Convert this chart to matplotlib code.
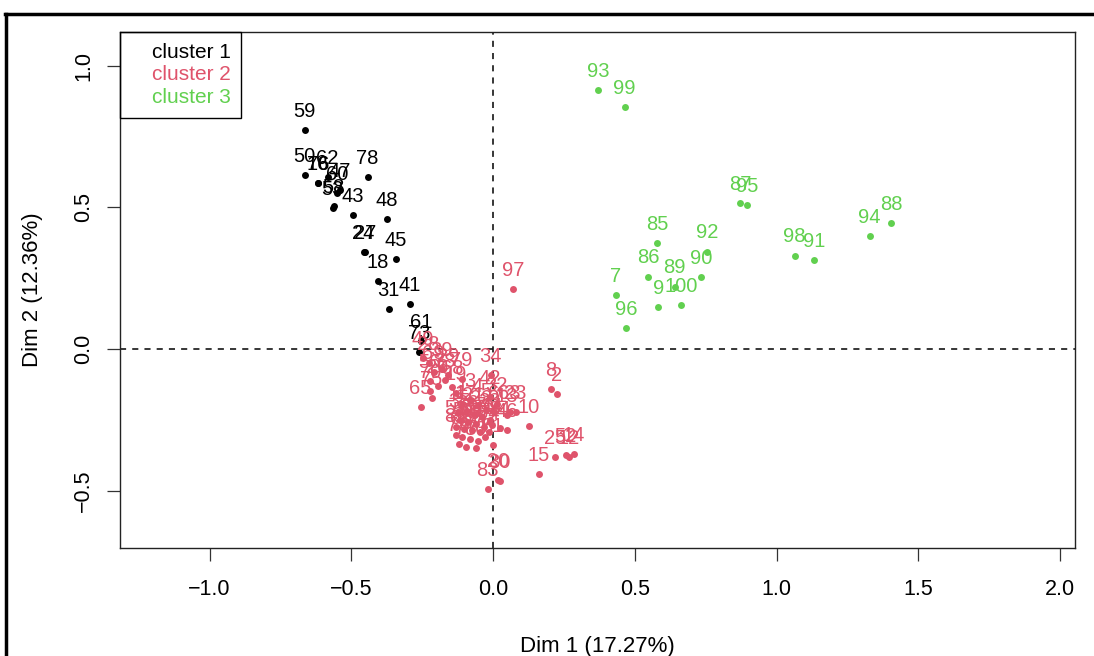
import matplotlib
matplotlib.use("Agg")
import matplotlib.pyplot as plt
from matplotlib.lines import Line2D
from matplotlib.patches import Rectangle

plt.rcParams['font.family'] = ['Liberation Sans', 'DejaVu Sans']

# ---- data ----
c1_labels = ["59", "50", "76", "16", "62", "47", "60", "53", "58", "43", "78", "48",
             "27", "24", "45", "18", "31", "41", "61", "73"]
c1_x = [-0.665, -0.665, -0.616, -0.619, -0.584, -0.541, -0.549, -0.566, -0.563, -0.496,
        -0.443, -0.376, -0.453, -0.457, -0.344, -0.407, -0.369, -0.295, -0.254, -0.261]
c1_y = [0.774, 0.615, 0.587, 0.587, 0.608, 0.562, 0.551, 0.498, 0.505, 0.474,
        0.608, 0.459, 0.343, 0.343, 0.318, 0.240, 0.141, 0.159, 0.028, -0.011]

c2_labels = ["97", "34", "8", "2", "10", "46", "15", "25", "52", "12", "14", "83", "30", "20",
             "42", "32", "63", "23", "13",
             "49", "28", "69", "39", "29", "56", "26", "68", "19", "65", "75", "70", "79", "38",
             "1", "3", "4", "5", "6", "11", "17", "21", "22", "33", "35", "36", "37", "40",
             "44", "51", "54", "55", "57", "64", "66", "67", "71", "72", "74", "77", "80",
             "81", "82", "84"]
c2_x = [0.069, -0.009, 0.203, 0.224, 0.125, 0.048, 0.160, 0.217, 0.256, 0.266, 0.284,
        -0.019, 0.023, 0.016,
        -0.012, 0.012, 0.058, 0.079, 0.048,
        -0.249, -0.228, -0.210, -0.182, -0.160, -0.224, -0.196, -0.146, -0.132, -0.256,
        -0.217, -0.224, -0.111, -0.171,
        -0.111, -0.083, -0.055, -0.026, 0.002, -0.125, -0.097, -0.069, -0.041, -0.012,
        -0.118, -0.090, -0.062, -0.034, -0.005, -0.132, -0.104, -0.076, -0.048, -0.016,
        -0.111, -0.083, -0.055, -0.030, -0.122, -0.094, -0.062, -0.002, -0.132, 0.023]
c2_y = [0.212, -0.092, -0.141, -0.159, -0.272, -0.286, -0.442, -0.382, -0.375, -0.382, -0.371,
        -0.495, -0.466, -0.463,
        -0.170, -0.194, -0.223, -0.223, -0.233,
        -0.032, -0.049, -0.081, -0.071, -0.092, -0.113, -0.131, -0.134, -0.155, -0.205,
        -0.173, -0.148, -0.106, -0.110,
        -0.194, -0.180, -0.198, -0.216, -0.223, -0.223, -0.223, -0.230, -0.240, -0.251,
        -0.251, -0.258, -0.265, -0.276, -0.269, -0.276, -0.283, -0.286, -0.293, -0.293,
        -0.311, -0.318, -0.325, -0.311, -0.336, -0.346, -0.350, -0.339, -0.304, -0.279]

c3_labels = ["7", "96", "85", "86", "9", "89", "100", "90", "92", "87", "95", "98", "91",
             "94", "88", "93", "99"]
c3_x = [0.432, 0.470, 0.578, 0.546, 0.583, 0.640, 0.664, 0.732, 0.755, 0.870, 0.895,
        1.063, 1.131, 1.328, 1.403, 0.369, 0.464]
c3_y = [0.191, 0.073, 0.373, 0.256, 0.147, 0.220, 0.155, 0.253, 0.344, 0.515, 0.509,
        0.330, 0.314, 0.399, 0.446, 0.915, 0.855]

legend_labels = ["cluster 1", "cluster 2", "cluster 3"]
x_ticks = [-1.0, -0.5, 0.0, 0.5, 1.0, 1.5, 2.0]
y_ticks = [-0.5, 0.0, 0.5, 1.0]
x_label = "Dim 1 (17.27%)"
y_label = "Dim 2 (12.36%)"

colors = ["black", "#DF536B", "#61D04F"]

# ---- figure ----
fig = plt.figure(figsize=(10.94, 6.56), dpi=100)
ax = fig.add_axes([120 / 1094, 108 / 656, 955 / 1094, 516 / 656])

ax.axhline(0, color="black", lw=1.1, ls=(0, (4, 4)), zorder=1)
ax.axvline(0, color="black", lw=1.1, ls=(0, (4, 4)), zorder=1)

groups = [(c1_labels, c1_x, c1_y), (c2_labels, c2_x, c2_y), (c3_labels, c3_x, c3_y)]
for (labs, xs, ys), col in zip(groups, colors):
    ax.scatter(xs, ys, s=25, color=col, zorder=3, linewidths=0)
    for lab, xv, yv in zip(labs, xs, ys):
        ax.annotate(lab, (xv, yv), xytext=(0, 13.5), textcoords="offset points",
                    ha="center", va="center", fontsize=14.5, color=col, zorder=4)

ax.set_xlim(-1.316, 2.052)
ax.set_ylim(-0.703, 1.120)
ax.set_xticks(x_ticks)
ax.set_yticks(y_ticks)
ax.set_xticklabels([f"{v:.1f}".replace("-", "\u2212") for v in x_ticks], fontsize=15.5)
ax.set_yticklabels([f"{v:.1f}".replace("-", "\u2212") for v in y_ticks], fontsize=15.5,
                   rotation=90, va="center")
ax.tick_params(axis="both", direction="out", length=9.5, width=0.9, color="#333333")
ax.tick_params(axis="x", pad=13)
ax.tick_params(axis="y", pad=9)
for sp in ax.spines.values():
    sp.set_linewidth(1.0)
    sp.set_color("#222222")

ax.set_xlabel(x_label, fontsize=16, labelpad=26)
ax.set_ylabel(y_label, fontsize=16, labelpad=22)

# legend box
ax.add_patch(Rectangle((0, 0.833), 0.127, 0.167, transform=ax.transAxes,
                       fill=False, edgecolor="black", lw=1.0, zorder=5, clip_on=False))
for i, (lab, col) in enumerate(zip(legend_labels, colors)):
    ax.text(0.0335, 0.961 - i * 0.0435, lab, transform=ax.transAxes, color=col,
            fontsize=15, ha="left", va="center", zorder=6)

# screenshot frame lines
fig.add_artist(Line2D([5 / 1094, 1.0], [1 - 14 / 656, 1 - 14 / 656],
                      transform=fig.transFigure, color="black", lw=2.5))
fig.add_artist(Line2D([6 / 1094, 6 / 1094], [0, 1 - 14 / 656],
                      transform=fig.transFigure, color="black", lw=2.5))

fig.savefig("out.png", dpi=100)
